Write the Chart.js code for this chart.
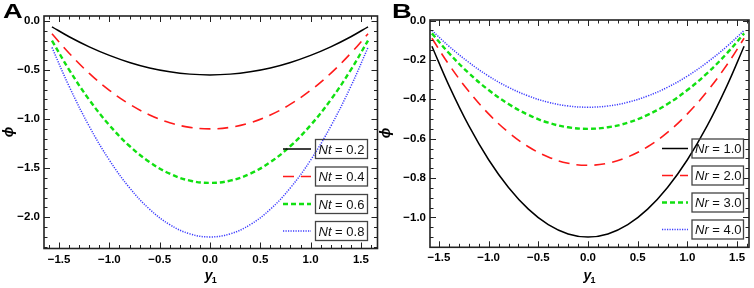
<!DOCTYPE html>
<html>
<head>
<meta charset="utf-8">
<script src="https://cdn.jsdelivr.net/npm/chart.js@4"></script>
<style>
  body { margin: 0; background: #fff; }
  #wrap { position: relative; width: 754px; height: 288px; }
  .panel { position: absolute; top: 0; height: 288px; }
  #panelA { left: 0; width: 380px; }
  #panelB { left: 378px; width: 376px; }
</style>
</head>
<body>
<div id="wrap">
  <div class="panel" id="panelA"><canvas id="chartA"></canvas></div>
  <div class="panel" id="panelB"><canvas id="chartB"></canvas></div>
</div>
<script>
const y1Values = [-1.5708, -1.4, -1.2, -1.0, -0.8, -0.6, -0.4, -0.2, 0, 0.2, 0.4, 0.6, 0.8, 1.0, 1.2, 1.4, 1.5708];

// Panel A: phi for Nt
const ntLabels = ["0.2", "0.4", "0.6", "0.8"];
const phiNt02 = [-0.060, -0.161, -0.264, -0.351, -0.423, -0.479, -0.518, -0.542, -0.550, -0.542, -0.518, -0.479, -0.423, -0.351, -0.264, -0.161, -0.060];
const phiNt04 = [-0.130, -0.329, -0.534, -0.707, -0.848, -0.958, -1.037, -1.084, -1.100, -1.084, -1.037, -0.958, -0.848, -0.707, -0.534, -0.329, -0.130];
const phiNt06 = [-0.200, -0.498, -0.804, -1.062, -1.274, -1.438, -1.556, -1.627, -1.650, -1.627, -1.556, -1.438, -1.274, -1.062, -0.804, -0.498, -0.200];
const phiNt08 = [-0.270, -0.667, -1.074, -1.418, -1.699, -1.918, -2.075, -2.169, -2.200, -2.169, -2.075, -1.918, -1.699, -1.418, -1.074, -0.667, -0.270];

// Panel B: phi for Nr
const nrLabels = ["1.0", "2.0", "3.0", "4.0"];
const phiNr1 = [-0.130, -0.329, -0.534, -0.707, -0.848, -0.958, -1.037, -1.084, -1.100, -1.084, -1.037, -0.958, -0.848, -0.707, -0.534, -0.329, -0.130];
const phiNr2 = [-0.090, -0.223, -0.359, -0.474, -0.568, -0.641, -0.693, -0.725, -0.735, -0.725, -0.693, -0.641, -0.568, -0.474, -0.359, -0.223, -0.090];
const phiNr3 = [-0.065, -0.165, -0.267, -0.353, -0.424, -0.479, -0.519, -0.542, -0.550, -0.542, -0.519, -0.479, -0.424, -0.353, -0.267, -0.165, -0.065];
const phiNr4 = [-0.050, -0.130, -0.212, -0.282, -0.339, -0.383, -0.415, -0.434, -0.440, -0.434, -0.415, -0.383, -0.339, -0.282, -0.212, -0.130, -0.050];

// tick labels
const xTicks = [-1.5, -1.0, -0.5, 0, 0.5, 1.0, 1.5];
const yTicksA = [0, -0.5, -1.0, -1.5, -2.0];
const yTicksB = [0, -0.2, -0.4, -0.6, -0.8, -1.0];

const FONT = "'Liberation Sans', Arial, sans-serif";
const lineStyles = [
  { color: "#000000", dash: [], width: 1.5 },
  { color: "#ff1a1a", dash: [11, 7], width: 1.6 },
  { color: "#11e011", dash: [5, 3], width: 2.4 },
  { color: "#3b3bff", dash: [1.2, 1.3], width: 1.5 },
];

function fmt(v) {
  return v.toFixed(1).replace("-", "\u2212");
}

function toPoints(arr) {
  return arr.map((v, i) => ({ x: y1Values[i], y: v }));
}

// frame, inward ticks on all four sides, titles and the boxed legend
const framePlugin = {
  id: "frame",
  afterDraw(chart, args, o) {
    const ctx = chart.ctx;
    const a = chart.chartArea;
    const xs = chart.scales.x, ys = chart.scales.y;
    ctx.save();
    ctx.strokeStyle = "#222";
    ctx.lineWidth = 1;
    ctx.setLineDash([]);
    ctx.beginPath();
    // x ticks
    const xStep = o.xMinor;
    for (let k = Math.ceil(xs.min / xStep); k <= Math.floor(xs.max / xStep); k++) {
      const v = k * xStep;
      const major = Math.abs(v / o.xMajor - Math.round(v / o.xMajor)) < 1e-6;
      const len = major ? 6 : 3.5;
      const px = Math.round(xs.getPixelForValue(v)) + 0.5;
      ctx.moveTo(px, a.bottom); ctx.lineTo(px, a.bottom - len);
      ctx.moveTo(px, a.top); ctx.lineTo(px, a.top + len);
    }
    // y ticks
    const yStep = o.yMinor;
    for (let k = Math.ceil(ys.min / yStep - 1e-6); k <= Math.floor(ys.max / yStep + 1e-6); k++) {
      const v = k * yStep;
      const major = Math.abs(v / o.yMajor - Math.round(v / o.yMajor)) < 1e-6;
      const len = major ? 6 : 3.5;
      const py = Math.round(ys.getPixelForValue(v)) + 0.5;
      ctx.moveTo(a.left, py); ctx.lineTo(a.left + len, py);
      ctx.moveTo(a.right, py); ctx.lineTo(a.right - len, py);
    }
    ctx.stroke();

    // frame
    ctx.lineWidth = 1.6;
    ctx.strokeRect(a.left, a.top, a.right - a.left, a.bottom - a.top);

    // panel letter
    ctx.fillStyle = "#000";
    ctx.font = "bold 21px " + FONT;
    ctx.textBaseline = "top";
    ctx.textAlign = "left";
    ctx.save();
    ctx.translate(o.letterX, 2);
    ctx.scale(1.3, 1);
    ctx.fillText(o.letter, 0, 0);
    ctx.restore();

    // y title
    ctx.save();
    ctx.translate(o.phiX, o.phiY);
    ctx.rotate(-Math.PI / 2);
    ctx.font = "italic bold 14px " + FONT;
    ctx.textAlign = "center";
    ctx.textBaseline = "middle";
    ctx.fillText("\u03d5", 0, 0);
    ctx.restore();

    // x title
    const cx = (a.left + a.right) / 2 - 2;
    ctx.font = "italic bold 14px " + FONT;
    ctx.textBaseline = "alphabetic";
    ctx.textAlign = "left";
    ctx.fillText("y", cx - 4, 280);
    ctx.font = "bold 9px " + FONT;
    ctx.fillText("1", cx + 3, 283);

    // legend
    const lg = o.legend;
    chart.data.datasets.forEach((ds, i) => {
      const top = lg.tops[i];
      const mid = top + lg.h / 2;
      ctx.strokeStyle = ds.borderColor;
      ctx.lineWidth = ds.borderWidth;
      ctx.setLineDash(ds.borderDash || []);
      ctx.beginPath();
      ctx.moveTo(lg.lineX0, mid);
      ctx.lineTo(lg.lineX1, mid);
      ctx.stroke();
      ctx.setLineDash([]);
      ctx.strokeStyle = "#444";
      ctx.lineWidth = 1.3;
      ctx.strokeRect(lg.boxX0, top, lg.boxX1 - lg.boxX0, lg.h);
      ctx.fillStyle = "#111";
      ctx.textBaseline = "middle";
      ctx.font = "italic 13px " + FONT;
      ctx.fillText(o.symbol, lg.boxX0 + 3, mid + 1);
      const w = ctx.measureText(o.symbol).width;
      ctx.font = "13px " + FONT;
      ctx.fillText(" = " + ds.label, lg.boxX0 + 3 + w, mid + 1);
    });
    ctx.restore();
  },
};

function makePanel(canvasId, cfg) {
  const ctx = document.getElementById(canvasId).getContext("2d");
  return new Chart(ctx, {
    type: "line",
    data: {
      datasets: cfg.series.map((s, i) => ({
        label: cfg.labels[i],
        data: toPoints(s),
        borderColor: lineStyles[i].color,
        borderDash: lineStyles[i].dash,
        borderWidth: lineStyles[i].width,
        pointRadius: 0,
        fill: false,
        tension: 0.4,
      })),
    },
    options: {
      responsive: true,
      maintainAspectRatio: false,
      animation: false,
      events: [],
      layout: { padding: { top: cfg.frameTop, right: cfg.padRight, left: 0, bottom: 0 } },
      plugins: {
        legend: { display: false },
        tooltip: { enabled: false },
        frame: cfg.frame,
      },
      scales: {
        x: {
          type: "linear",
          min: cfg.xMin,
          max: cfg.xMax,
          afterBuildTicks: (s) => { s.ticks = xTicks.map((v) => ({ value: v })); },
          afterFit: (s) => { s.height = 288 - cfg.frameBottom; },
          grid: { display: false, drawTicks: false },
          border: { display: false },
          ticks: {
            font: { family: FONT, weight: "bold", size: 11.5 },
            color: "#000",
            padding: 4,
            maxRotation: 0,
            callback: (v) => fmt(v),
          },
        },
        y: {
          type: "linear",
          min: cfg.yMin,
          max: cfg.yMax,
          afterBuildTicks: (s) => { s.ticks = cfg.yTicks.map((v) => ({ value: v })); },
          afterFit: (s) => { s.width = cfg.frameLeft; },
          grid: { display: false, drawTicks: false },
          border: { display: false },
          ticks: {
            font: { family: FONT, weight: "bold", size: 11.5 },
            color: "#000",
            padding: 4,
            callback: (v) => fmt(v),
          },
        },
      },
    },
    plugins: [framePlugin],
  });
}

makePanel("chartA", {
  series: [phiNt02, phiNt04, phiNt06, phiNt08],
  labels: ntLabels,
  xMin: -1.65, xMax: 1.665,
  yMin: -2.318, yMax: 0.05,
  yTicks: yTicksA,
  frameLeft: 44, frameTop: 16, frameBottom: 248.5, padRight: 2.5,
  frame: {
    letter: "A", letterX: 3, phiX: 9, phiY: 132,
    symbol: "Nt",
    xMajor: 0.5, xMinor: 0.1, yMajor: 0.5, yMinor: 0.1,
    legend: { lineX0: 283, lineX1: 311, boxX0: 315.5, boxX1: 367.5, tops: [139.5, 167, 194.5, 221.5], h: 19 },
  },
});

makePanel("chartB", {
  series: [phiNr1, phiNr2, phiNr3, phiNr4],
  labels: nrLabels,
  xMin: -1.59, xMax: 1.62,
  yMin: -1.152, yMax: 0.003,
  yTicks: yTicksB,
  frameLeft: 52, frameTop: 20, frameBottom: 247.3, padRight: 5,
  frame: {
    letter: "B", letterX: 14, phiX: 8, phiY: 133,
    symbol: "Nr",
    xMajor: 0.5, xMinor: 0.1, yMajor: 0.2, yMinor: 0.05,
    legend: { lineX0: 284, lineX1: 310, boxX0: 314, boxX1: 365.5, tops: [139, 166, 193, 220], h: 19 },
  },
});
</script>
</body>
</html>
